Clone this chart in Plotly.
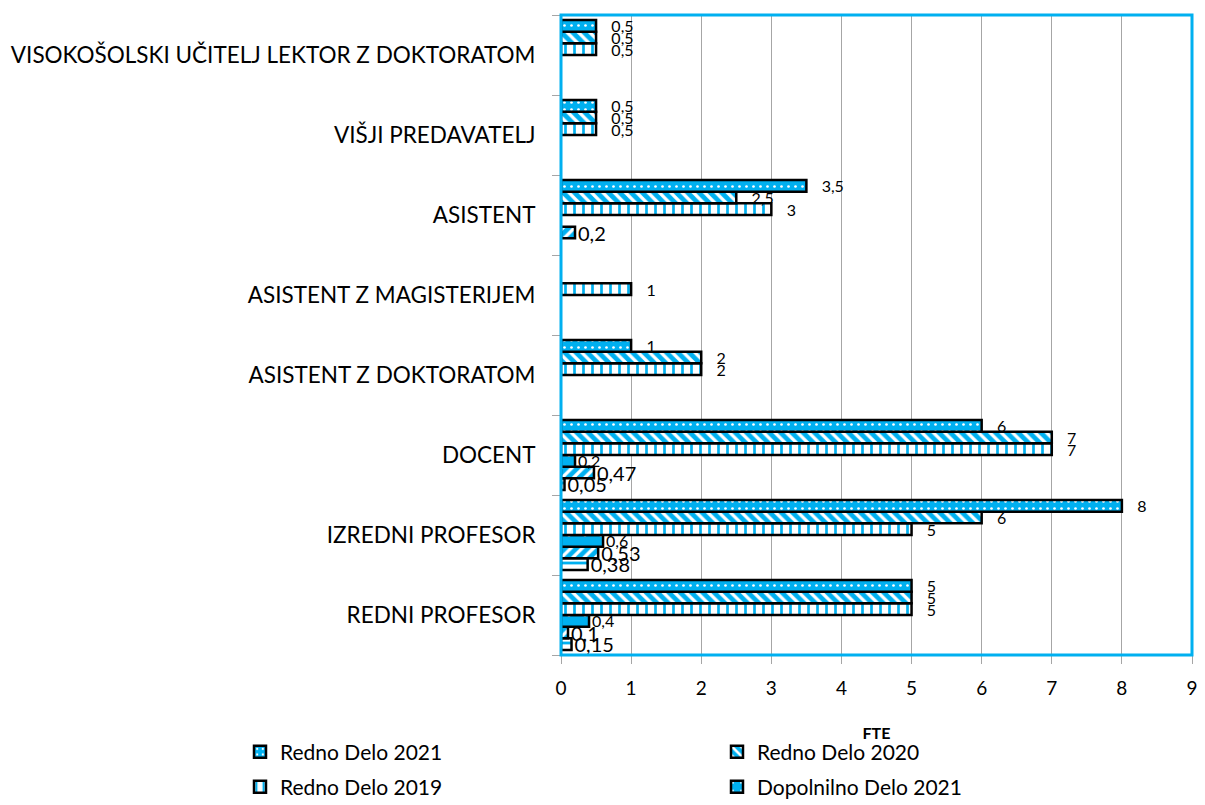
import plotly.graph_objects as go

categories = ["REDNI PROFESOR", "IZREDNI PROFESOR", "DOCENT", "ASISTENT Z DOKTORATOM",
              "ASISTENT Z MAGISTERIJEM", "ASISTENT", "VIŠJI PREDAVATELJ",
              "VISOKOŠOLSKI UČITELJ LEKTOR Z DOKTORATOM"]

redno_2021 = [5, 8, 6, 1, None, 3.5, 0.5, 0.5]
redno_2020 = [5, 6, 7, 2, None, 2.5, 0.5, 0.5]
redno_2019 = [5, 5, 7, 2, 1, 3, 0.5, 0.5]
dopolnilno_2021 = [0.4, 0.6, 0.2, None, None, None, None, None]
dopolnilno_2020 = [0.1, 0.53, 0.47, None, None, 0.2, None, None]
dopolnilno_2019 = [0.15, 0.38, 0.05, None, None, None, None, None]

BLUE = "#00B0F0"
PAD = "\u00a0" * 3

# (name, values, pattern shape, fg, bg, pattern size, solidity, label size, label prefix, legend id)
series = [
    ("Dopolnilno Delo 2019", dopolnilno_2019, "-", BLUE, "white", 8, 0.35, 20, "", None),
    ("Dopolnilno Delo 2020", dopolnilno_2020, "/", "white", BLUE, 8, 0.4, 20, "", None),
    ("Dopolnilno Delo 2021", dopolnilno_2021, ".", "white", BLUE, 16, 0.04, 16, "", "legend4"),
    ("Redno Delo 2019", redno_2019, "|", BLUE, "white", 9, 0.3, 16, PAD, "legend3"),
    ("Redno Delo 2020", redno_2020, "\\", "white", BLUE, 8, 0.4, 16, PAD, "legend2"),
    ("Redno Delo 2021", redno_2021, ".", "white", BLUE, 7, 0.12, 16, PAD, "legend"),
]

fig = go.Figure()
for name, vals, shape, fg, bg, psize, sol, lsize, prefix, leg in series:
    fig.add_trace(go.Bar(
        y=categories, x=vals, name=name, orientation="h",
        marker=dict(color=bg, line=dict(color="black", width=2.5),
                    pattern=dict(shape=shape, fgcolor=fg, bgcolor=bg,
                                 fillmode="replace", size=psize, solidity=sol)),
        texttemplate=prefix + "%{x}", textposition="outside", cliponaxis=False,
        constraintext="none",
        textfont=dict(size=lsize, color="black"),
        showlegend=leg is not None,
        legend=leg if leg else "legend",
    ))

legend_style = dict(xref="container", yref="container", xanchor="left", yanchor="middle",
                    font=dict(size=21), itemwidth=30, bgcolor="rgba(0,0,0,0)")
fig.update_layout(
    width=1205, height=805,
    font=dict(family="Lato", color="black"),
    separators=",.",
    barmode="group", bargap=0.125, bargroupgap=0,
    plot_bgcolor="white", paper_bgcolor="white",
    margin=dict(l=561, r=13, t=15, b=150, autoexpand=False),
    legend=dict(x=240 / 1205, y=1 - 752 / 805, **legend_style),
    legend2=dict(x=717 / 1205, y=1 - 752 / 805, **legend_style),
    legend3=dict(x=240 / 1205, y=1 - 787 / 805, **legend_style),
    legend4=dict(x=717 / 1205, y=1 - 787 / 805, **legend_style),
    shapes=[dict(type="rect", xref="paper", yref="paper", x0=0, x1=1, y0=0, y1=1,
                 line=dict(color=BLUE, width=3), layer="above")],
)
fig.update_xaxes(range=[0, 9], dtick=1, showgrid=True, gridcolor="#A6A6A6", gridwidth=1,
                 ticks="outside", tickcolor="#A6A6A6", ticklen=8, ticklabelstandoff=8,
                 tickfont=dict(size=19), zeroline=False,
                 title=dict(text="<b>FTE</b>", font=dict(size=16), standoff=30))
fig.update_yaxes(ticks="outside", tickson="boundaries", tickcolor="#A6A6A6", ticklen=8,
                 showline=True, linecolor="#A6A6A6", tickfont=dict(size=22.5),
                 showgrid=False, ticklabelstandoff=20)

fig.write_html("out.html", config={"displayModeBar": False},
               post_script="document.body.style.margin='0';")
